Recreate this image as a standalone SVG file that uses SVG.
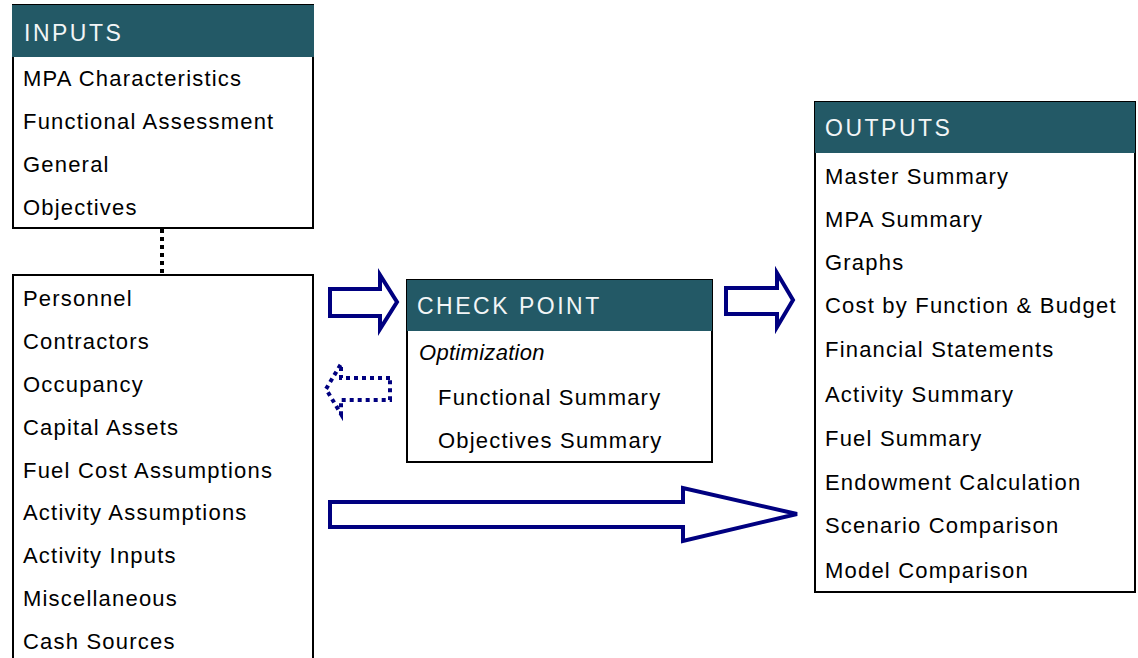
<svg xmlns="http://www.w3.org/2000/svg" width="1138" height="658" viewBox="0 0 1138 658">
<style>
.box{fill:#fff;stroke:#000;stroke-width:2}
.hdr{fill:#235966}
.ht{font-family:"Liberation Sans",Arial,sans-serif;font-size:23px;fill:#f2f5f6;letter-spacing:2.5px}
.t{font-family:"Liberation Sans",Arial,sans-serif;font-size:22px;fill:#000;letter-spacing:1.2px}
.arr{fill:#fff;stroke:#000080;stroke-width:4;stroke-linejoin:miter}
.darr{fill:none;stroke:#000080;stroke-width:4;stroke-dasharray:4 4}
</style>
<rect width="1138" height="658" fill="#fff"/>
<g id="connectors">
<line x1="162" y1="229" x2="162" y2="274" stroke="#000" stroke-width="4" stroke-dasharray="4 4"/>
<polygon class="arr" points="330,289 380,289 380,275 397,302 380,329 380,316 330,316"/>
<polygon class="arr" points="726,288 777,288 777,273 793,300 777,327 777,314 726,314"/>
<polygon class="darr" points="390,378 341,378 341,364 326,389 341,414 341,400 390,400"/>
<polygon class="arr" points="330,502 683,502 683,488 797,514 683,541 683,527 330,527"/>
</g>
<g id="inputs">
<rect class="box" x="13" y="5" width="300" height="223"/>
<rect class="hdr" x="12" y="5" width="302" height="52"/>
<text class="ht" x="24" y="41">INPUTS</text>
<text class="t" x="23" y="86">MPA Characteristics</text>
<text class="t" x="23" y="129">Functional Assessment</text>
<text class="t" x="23" y="172">General</text>
<text class="t" x="23" y="215">Objectives</text>
</g>
<g id="inputs2">
<path d="M13,670 V275 H313 V670" fill="#fff" stroke="#000" stroke-width="2"/>
<text class="t" x="23" y="306">Personnel</text>
<text class="t" x="23" y="349">Contractors</text>
<text class="t" x="23" y="392">Occupancy</text>
<text class="t" x="23" y="435">Capital Assets</text>
<text class="t" x="23" y="478">Fuel Cost Assumptions</text>
<text class="t" x="23" y="520">Activity Assumptions</text>
<text class="t" x="23" y="563">Activity Inputs</text>
<text class="t" x="23" y="606">Miscellaneous</text>
<text class="t" x="23" y="649">Cash Sources</text>
</g>
<g id="checkpoint">
<rect class="box" x="407" y="280" width="305" height="182"/>
<rect class="hdr" x="407" y="280" width="305" height="51"/>
<text class="ht" x="417" y="314">CHECK POINT</text>
<text class="t" x="419" y="360" font-style="italic" style="letter-spacing:0.3px">Optimization</text>
<text class="t" x="438" y="405">Functional Summary</text>
<text class="t" x="438" y="448">Objectives Summary</text>
</g>
<g id="outputs">
<rect class="box" x="815" y="102" width="320" height="490"/>
<rect class="hdr" x="815" y="102" width="320" height="51"/>
<text class="ht" x="825" y="136">OUTPUTS</text>
<text class="t" x="825" y="184">Master Summary</text>
<text class="t" x="825" y="227">MPA Summary</text>
<text class="t" x="825" y="270">Graphs</text>
<text class="t" x="825" y="313">Cost by Function &amp; Budget</text>
<text class="t" x="825" y="357">Financial Statements</text>
<text class="t" x="825" y="402">Activity Summary</text>
<text class="t" x="825" y="446">Fuel Summary</text>
<text class="t" x="825" y="490">Endowment Calculation</text>
<text class="t" x="825" y="533">Scenario Comparison</text>
<text class="t" x="825" y="578">Model Comparison</text>
</g>
</svg>
